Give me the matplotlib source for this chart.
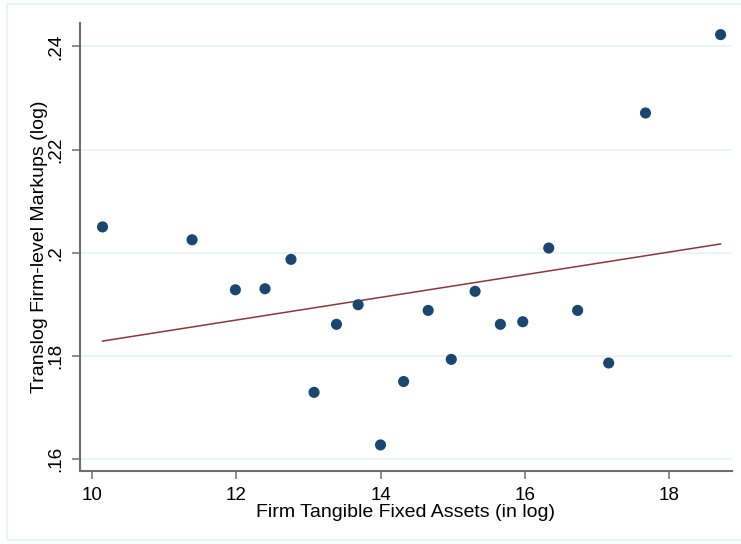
import matplotlib
matplotlib.use("Agg")
import matplotlib.pyplot as plt
from matplotlib.patches import Rectangle

plt.rcParams['font.family'] = ['Liberation Sans', 'DejaVu Sans']

# Binned scatter data
assets_log = [10.15, 11.39, 11.99, 12.40, 12.76, 13.08, 13.39, 13.69, 14.00, 14.32,
              14.66, 14.98, 15.31, 15.66, 15.97, 16.33, 16.73, 17.16, 17.67, 18.71]
markups_log = [0.2050, 0.2025, 0.1928, 0.1930, 0.1987, 0.1729, 0.1861, 0.1899, 0.1627, 0.1750,
               0.1888, 0.1793, 0.1925, 0.1861, 0.1866, 0.2009, 0.1888, 0.1786, 0.2271, 0.2423]

# Linear fit line endpoints
fit_x = [10.15, 18.71]
fit_y = [0.18285, 0.20169]

x_ticks = [10, 12, 14, 16, 18]
x_ticklabels = ['10', '12', '14', '16', '18']
y_ticks = [0.16, 0.18, 0.20, 0.22, 0.24]
y_ticklabels = ['.16', '.18', '.2', '.22', '.24']

W, H = 741, 544
fig = plt.figure(figsize=(W / 100, H / 100), dpi=100)
fig.patch.set_facecolor('white')
fig.patches.append(Rectangle((6.5 / W, 4 / H), (W - 4) / W, (H - 8) / H,
                             transform=fig.transFigure, fill=False,
                             edgecolor='#EAF0F3', linewidth=1.2, zorder=0))

ax = fig.add_axes([80 / W, 1 - 470.7 / H, (732 - 80) / W, (470.7 - 23.3) / H])
ax.set_xlim(9.838, 18.868)
ax.set_ylim(0.1577, 0.2445)

for yt in y_ticks:
    ax.axhline(yt, color='#EAF2F3', linewidth=1.3, zorder=0)

ax.scatter(assets_log, markups_log, s=64, color='#1A476F', edgecolors='none', zorder=3)
ax.plot(fit_x, fit_y, color='#90353B', linewidth=1.1, zorder=2)

ax.set_xticks(x_ticks)
ax.set_xticklabels(x_ticklabels)
ax.set_yticks(y_ticks)
ax.set_yticklabels(y_ticklabels, rotation=90, va='center')

for s in ['top', 'right']:
    ax.spines[s].set_visible(False)
for s in ['left', 'bottom']:
    ax.spines[s].set_color('#6E6E6E')
    ax.spines[s].set_linewidth(1.5)

ax.tick_params(axis='both', colors='#6E6E6E', labelcolor='black', labelsize=13.6,
               length=6, width=1.1)
ax.tick_params(axis='x', pad=6)
ax.tick_params(axis='y', pad=5)

ax.set_xlabel('Firm Tangible Fixed Assets (in log)', fontsize=14, labelpad=0)
ax.set_ylabel('Translog Firm-level Markups (log)', fontsize=14, labelpad=0)

fig.savefig('out.png', dpi=100, facecolor='white')
